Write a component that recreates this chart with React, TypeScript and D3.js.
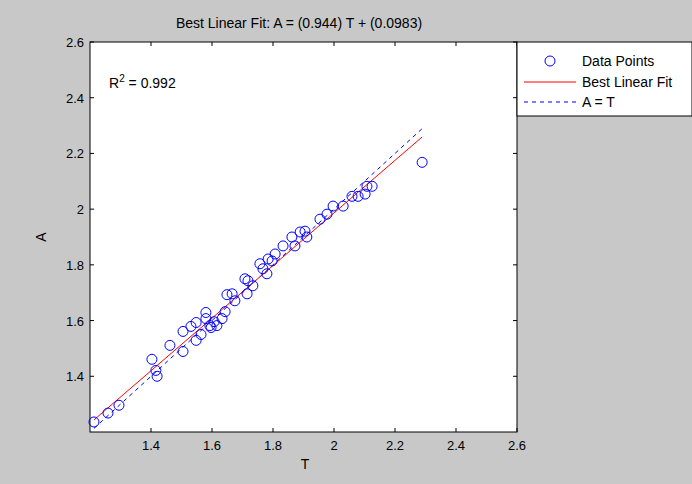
import React from "react";
import * as d3 from "d3";

const T = [1.213,1.259,1.295,1.403,1.416,1.420,1.462,1.505,1.505,1.531,1.548,1.548,1.564,1.580,1.580,1.593,1.597,1.607,1.616,1.633,1.643,1.649,1.666,1.675,1.715,1.734,1.718,1.708,1.757,1.767,1.780,1.784,1.797,1.807,1.833,1.862,1.872,1.889,1.905,1.911,1.954,1.977,1.997,2.030,2.059,2.079,2.102,2.108,2.125,2.289];
const A = [1.236,1.268,1.296,1.461,1.421,1.400,1.511,1.561,1.489,1.579,1.593,1.529,1.550,1.629,1.607,1.582,1.575,1.596,1.582,1.607,1.632,1.693,1.696,1.671,1.696,1.725,1.743,1.750,1.804,1.786,1.768,1.821,1.814,1.839,1.868,1.900,1.868,1.918,1.921,1.900,1.964,1.982,2.011,2.011,2.046,2.046,2.054,2.082,2.082,2.168];
const xTicks = [1.4,1.6,1.8,2,2.2,2.4,2.6];
const yTicks = [1.4,1.6,1.8,2,2.2,2.4,2.6];
const slope = 0.944, intercept = 0.0983;

export default function App() {
  const L = 90, R = 517, Tp = 42, B = 432;
  const x = d3.scaleLinear().domain([1.2, 2.6]).range([L, R]);
  const y = d3.scaleLinear().domain([1.2, 2.6]).range([B, Tp]);
  const tmin = d3.min(T)!, tmax = d3.max(T)!;
  const f = "Liberation Sans, Arial, sans-serif";
  return (
    <svg width={692} height={484} style={{ position: "absolute", left: 0, top: 0, fontFamily: f }}>
      <rect width={692} height={484} fill="#c8c8c8" />
      <rect x={L} y={Tp} width={R - L} height={B - Tp} fill="#fff" stroke="#000" />
      {xTicks.map(t => (
        <g key={"x" + t}>
          <line x1={x(t)} x2={x(t)} y1={B} y2={B - 4} stroke="#000" />
          <line x1={x(t)} x2={x(t)} y1={Tp} y2={Tp + 4} stroke="#000" />
          <text x={x(t)} y={B + 18} fontSize={13} textAnchor="middle">{t}</text>
        </g>
      ))}
      {yTicks.map(t => (
        <g key={"y" + t}>
          <line x1={L} x2={L + 4} y1={y(t)} y2={y(t)} stroke="#000" />
          <line x1={R} x2={R - 4} y1={y(t)} y2={y(t)} stroke="#000" />
          <text x={L - 6} y={y(t) + 5} fontSize={13} textAnchor="end">{t}</text>
        </g>
      ))}
      <text x={305} y={469} fontSize={14} textAnchor="middle">T</text>
      <text transform="translate(46,237) rotate(-90)" fontSize={14} textAnchor="middle">A</text>
      <text x={299} y={28} fontSize={14} textAnchor="middle">Best Linear Fit:  A = (0.944) T + (0.0983)</text>
      <text x={109} y={88} fontSize={14}>R<tspan dy={-6} fontSize={10}>2</tspan><tspan dy={6}> = 0.992</tspan></text>
      <line x1={x(tmin)} y1={y(tmin)} x2={x(tmax)} y2={y(tmax)} stroke="#0000ff" strokeDasharray="4,4" />
      <line x1={x(tmin)} y1={y(slope * tmin + intercept)} x2={x(tmax)} y2={y(slope * tmax + intercept)} stroke="#ff0000" />
      {T.map((t, i) => (
        <circle key={i} cx={x(t)} cy={y(A[i])} r={5} fill="none" stroke="#0000ff" />
      ))}
      <rect x={517} y={42} width={175} height={74} fill="#fff" stroke="#000" />
      <circle cx={550} cy={61} r={5} fill="none" stroke="#0000ff" />
      <text x={582} y={66} fontSize={14}>Data Points</text>
      <line x1={524} x2={576} y1={82} y2={82} stroke="#ff0000" />
      <text x={582} y={87} fontSize={14}>Best Linear Fit</text>
      <line x1={524} x2={576} y1={102} y2={102} stroke="#0000ff" strokeDasharray="4,4" />
      <text x={582} y={107} fontSize={14}>A = T</text>
    </svg>
  );
}
